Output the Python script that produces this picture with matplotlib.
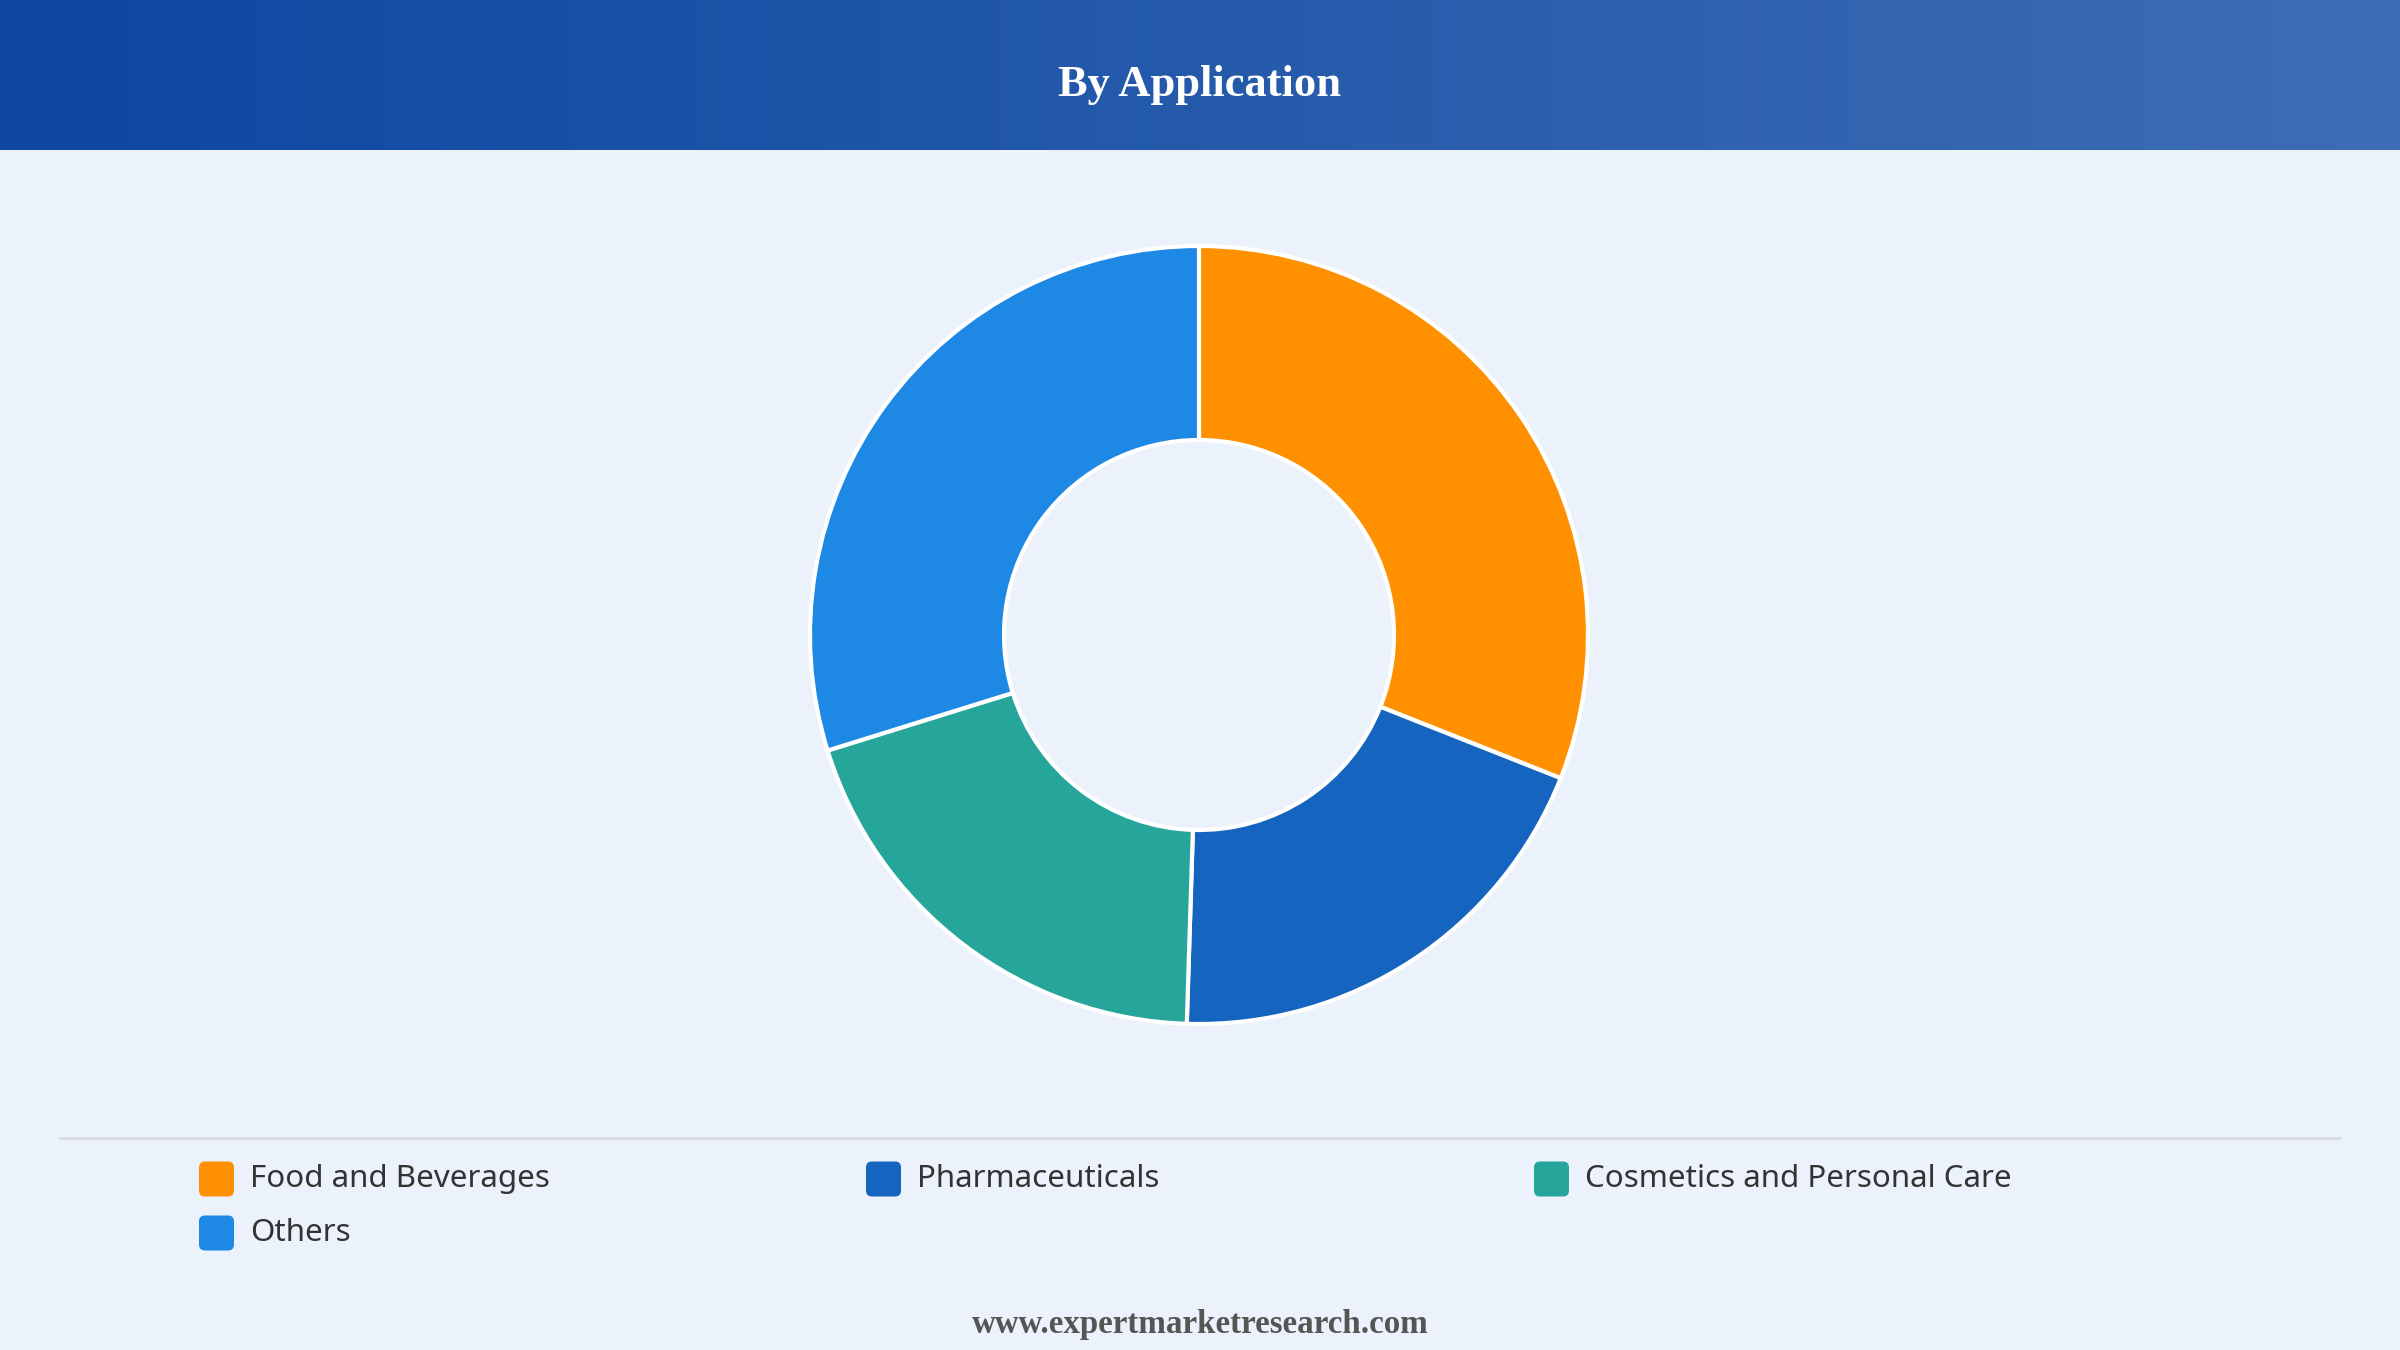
import numpy as np
import matplotlib.pyplot as plt
from matplotlib.patches import FancyBboxPatch
from matplotlib.colors import LinearSegmentedColormap

# data
categories = ['Food and Beverages', 'Pharmaceuticals', 'Cosmetics and Personal Care', 'Others']
shares = [31.0, 19.5, 19.7, 29.8]
colors = ['#FF9100', '#1565C0', '#26A69A', '#1E88E5']

W, H = 2400, 1350
BG = '#EBF2FC'

fig = plt.figure(figsize=(24, 13.5), dpi=100, facecolor=BG)
ax = fig.add_axes([0, 0, 1, 1])
ax.set_facecolor(BG)

# donut, coordinates in pixels (y going up)
ax.pie(shares, colors=colors, startangle=90, counterclock=False,
       center=(1199, H - 635), radius=389,
       wedgeprops=dict(width=194, edgecolor='white', linewidth=3))

# header band with gradient
grad = np.linspace(0, 1, 256).reshape(1, -1)
cmap = LinearSegmentedColormap.from_list('hdr', ['#0D47A1', '#3D6DB5'])
ax.imshow(grad, cmap=cmap, extent=[0, W, H - 150, H], aspect='auto', zorder=0)
ax.set_xlim(0, W)
ax.set_ylim(0, H)
ax.set_aspect('auto')
ax.axis('off')
ax.text(W / 2, H - 85, 'By Application', ha='center', va='center', color='white',
        fontsize=32, fontweight='bold', family='Liberation Serif')

# separator line
ax.plot([60, 2340], [H - 1138, H - 1138], color='#D8DCE2', lw=2)

# legend
col_x = [199, 866, 1534]
row_y = [H - 1179, H - 1233]
for i, (lab, c) in enumerate(zip(categories, colors)):
    x = col_x[i % 3]
    y = row_y[i // 3]
    ax.add_patch(FancyBboxPatch((x + 5, y - 12.5), 25, 25,
                                boxstyle='round,pad=5,rounding_size=6',
                                fc=c, ec='none'))
    ax.text(x + 51, y, lab, ha='left', va='center', color='#333333',
            fontsize=22.5, family='Noto Sans')

# footer
ax.text(W / 2, H - 1324, 'www.expertmarketresearch.com', ha='center', va='center',
        color='#555555', fontsize=23.8, fontweight='bold', family='Liberation Serif')

fig.savefig('out.png', dpi=100, facecolor=BG)
